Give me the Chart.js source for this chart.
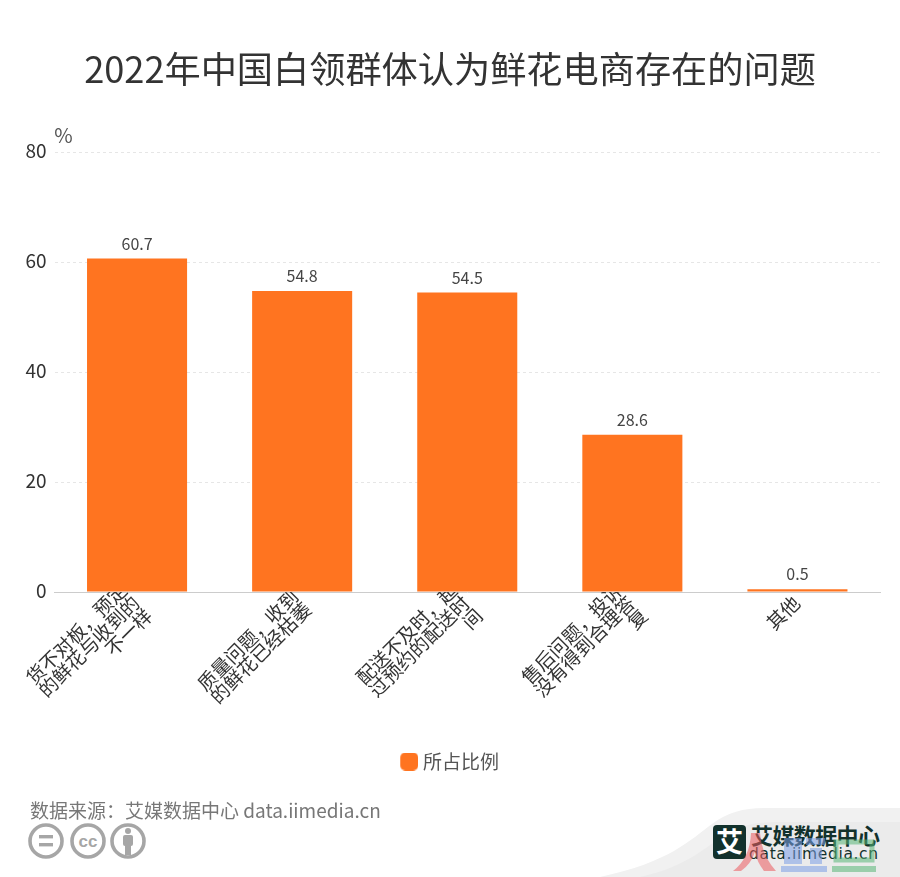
<!DOCTYPE html>
<html><head><meta charset="utf-8">
<script src="https://cdn.jsdelivr.net/npm/chart.js@4"></script>
<style>
html,body{margin:0;padding:0;background:#fff;width:900px;height:877px;overflow:hidden;font-family:"Noto Sans CJK SC","Noto Sans",sans-serif}
#wrap{position:relative;width:900px;height:877px}
canvas{position:absolute;left:0;top:0}
#src{position:absolute;left:30px;top:797px;font-size:19px;line-height:26px;color:#777;white-space:nowrap}
#deco{position:absolute;left:0;top:0}
</style></head><body>
<div id="wrap">
<svg id="deco" width="900" height="877" viewBox="0 0 900 877">
  <path d="M600 877 C670 862 690 840 712 824 C730 811 745 808 770 808 L900 808 L900 877 Z" fill="#f1f1f1"/>
  <path d="M640 877 C690 866 705 846 730 832 C745 824 760 822 780 822 L900 822 L900 877 Z" fill="#ebebeb"/>
  <g fill="none" stroke="#a6a6a6" stroke-width="3.6">
    <circle cx="46" cy="841" r="16"/><circle cx="88" cy="841" r="16"/><circle cx="128" cy="841" r="16"/>
  </g>
  <g fill="#a6a6a6">
    <rect x="39" y="835" width="14" height="3.4"/><rect x="39" y="843" width="14" height="3.4"/>
    <circle cx="128" cy="831" r="3"/><rect x="123" y="835" width="10" height="11" rx="2"/><rect x="125" y="845" width="6" height="10"/>
  </g>
  <text x="88" y="847" text-anchor="middle" font-family="Liberation Sans" font-weight="bold" font-size="17" fill="#a6a6a6">cc</text>
  <rect x="713" y="825" width="33" height="34" rx="4" fill="#12312c"/>
  <text x="729.5" y="852" text-anchor="middle" font-family="Noto Sans CJK SC" font-weight="bold" font-size="27" fill="#fff">艾</text>
  <text x="751" y="844" font-family="Noto Sans CJK SC" font-weight="bold" font-size="22" letter-spacing="-0.6" fill="#12312c">艾媒数据中心</text>
  <text x="749" y="859" font-family="DejaVu Sans" font-size="15.5" letter-spacing="0.65" fill="#12312c">data.iimedia.cn</text>
  <g opacity="0.55">
    <path d="M751 833 L760 833 Q762 856 776 871 L764 871 Q757 862 755 852 Q751 864 741 871 L733 871 Q750 858 751 833 Z" fill="#ec5a5e"/>
    <g fill="#7e9fe6">
      <rect x="784" y="838" width="18" height="26"/>
      <rect x="806" y="838" width="19" height="7"/>
      <rect x="810" y="848" width="12" height="16"/>
      <rect x="781" y="866" width="46" height="6"/>
    </g>
    <g fill="none" stroke="#58b878" stroke-width="5">
      <rect x="836" y="842" width="36" height="18"/>
    </g>
    <rect x="832" y="866" width="44" height="6" fill="#58b878"/>
  </g>
</svg>
<canvas id="c" width="900" height="877" style="width:900px;height:877px"></canvas>
<div id="src">数据来源：艾媒数据中心 data.iimedia.cn</div>
</div>
<script>
const categories = [
  ['货不对板，预定','的鲜花与收到的','不一样'],
  ['质量问题，收到','的鲜花已经枯萎'],
  ['配送不及时，超','过预约的配送时','间'],
  ['售后问题，投诉','没有得到合理答','复'],
  ['其他']
];
const seriesName = '所占比例';
const values = [60.7, 54.8, 54.5, 28.6, 0.5];
const valueLabels = ['60.7','54.8','54.5','28.6','0.5'];
const yTicks = [0, 20, 40, 60, 80];
const titleText = '2022年中国白领群体认为鲜花电商存在的问题';
const unitText = '%';
const FONT = '"Noto Sans CJK SC","Noto Sans",sans-serif';
const BAR = '#ff7420';

// rounded square used as the legend swatch (transparent margin on the left tightens the text gap)
const swatch = document.createElement('canvas');
swatch.width = 22; swatch.height = 18;
{
  const g = swatch.getContext('2d');
  g.fillStyle = BAR;
  g.beginPath();
  g.roundRect(4, 0, 18, 18, 5);
  g.fill();
}

const extras = {
  id: 'extras',
  beforeDraw(chart) {
    // centre multi-line rotated labels on their tick
    const s = chart.scales.x;
    s.getLabelItems(chart.chartArea).forEach(it => {
      const n = Array.isArray(it.label) ? it.label.length : 1;
      if (!it.centred) {
        it.textOffset -= (n - 1) / 2 * it.font.lineHeight;
        it.centred = true;
      }
    });
  },
  afterDatasetsDraw(chart) {
    const { ctx } = chart;
    const meta = chart.getDatasetMeta(0);
    ctx.save();
    ctx.font = '16px ' + FONT;
    ctx.fillStyle = '#444';
    ctx.textAlign = 'center';
    ctx.textBaseline = 'middle';
    meta.data.forEach((bar, i) => ctx.fillText(valueLabels[i], bar.x, bar.y - 15));
    ctx.font = '20px ' + FONT;
    ctx.fillStyle = '#555';
    ctx.fillText(unitText, chart.chartArea.left + 9, chart.scales.y.getPixelForValue(80) - 17);
    ctx.restore();
  }
};

new Chart(document.getElementById('c'), {
  type: 'bar',
  data: {
    labels: categories,
    datasets: [{
      label: seriesName,
      data: values,
      backgroundColor: BAR,
      borderWidth: 0,
      barPercentage: 0.606,
      categoryPercentage: 1
    }]
  },
  plugins: [extras],
  options: {
    responsive: false,
    animation: false,
    devicePixelRatio: 1,
    layout: { padding: { top: 48, left: 20, right: 20, bottom: 96 } },
    plugins: {
      tooltip: { enabled: false },
      title: {
        display: true,
        text: titleText,
        color: '#333',
        font: { family: FONT, size: 36.2, weight: 'normal' },
        padding: { top: 0, bottom: 61 }
      },
      legend: {
        position: 'bottom',
        labels: {
          usePointStyle: true,
          pointStyle: swatch,
          pointStyleWidth: 12.5,
          boxHeight: 18,
          color: '#555',
          font: { family: FONT, size: 19 },
          padding: 4
        }
      }
    },
    scales: {
      x: {
        grid: { display: false, drawTicks: true, tickLength: 5, tickColor: '#ccc' },
        border: { display: true, color: '#ccc', width: 1 },
        ticks: {
          autoSkip: false,
          minRotation: 45,
          maxRotation: 45,
          padding: -4,
          labelOffset: -1,
          color: '#333',
          font: { family: FONT, size: 19, lineHeight: 0.95 }
        },
        afterFit(s) { s.height = 156; }
      },
      y: {
        min: 0, max: 80,
        afterBuildTicks(s) { s.ticks = yTicks.map(v => ({ value: v })); },
        grid: { color: '#e6e6e6', lineWidth: 1, tickLength: 0, drawTicks: false },
        border: { display: false, dash: [3, 3] },
        ticks: {
          padding: 8,
          labelOffset: -1.5,
          color: '#333',
          font: { family: FONT, size: 19 }
        },
        afterFit(s) { s.width = 34.5; }
      }
    }
  }
});
</script>
</body></html>
